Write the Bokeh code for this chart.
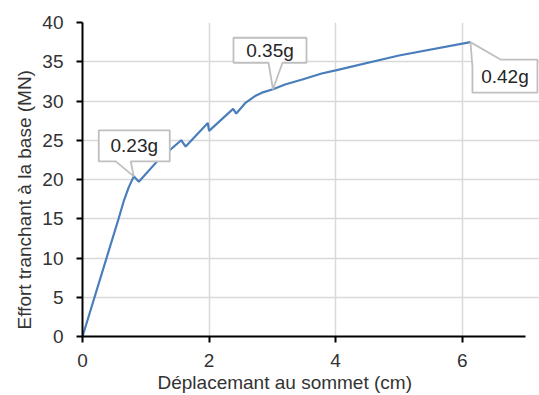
from bokeh.plotting import figure
from bokeh.models import Range1d, FixedTicker, PolyAnnotation, Label, Title
from bokeh.embed import file_html
from bokeh.resources import INLINE

# ---- data ----
disp = [0, 0.57, 0.65, 0.73, 0.81, 0.89, 1.2, 1.56, 1.63, 1.98, 2.0, 2.38, 2.43,
        2.58, 2.72, 2.85, 3.01, 3.2, 3.46, 3.78, 4.0, 5.0, 6.13]
shear = [0, 15.0, 17.2, 19.0, 20.4, 19.7, 22.5, 25.0, 24.2, 27.2, 26.2, 29.0, 28.4,
         29.8, 30.6, 31.1, 31.5, 32.1, 32.7, 33.5, 33.9, 35.8, 37.5]

x_ticks = [0, 2, 4, 6]
y_ticks = [0, 5, 10, 15, 20, 25, 30, 35, 40]
x_min, x_max = 0, 7
y_min, y_max = 0, 40

x_title = "Déplacemant au sommet (cm)"
y_title = "Effort tranchant à la base (MN)"

callout_texts = ["0.23g", "0.35g", "0.42g"]
callout_x = [0.81, 3.01, 6.13]
callout_y = [20.4, 31.5, 37.5]

FONT = "Liberation Sans"
TXT = "#333333"

# plot area: 443 px for x 0..7, 314 px for y 0..40; keep 14 px extra on the
# right inside the frame so the last callout is not clipped
px_x = (x_max - x_min) / 443.0
px_y = (y_max - y_min) / 314.0

p = figure(width=539, height=395, output_backend="svg", toolbar_location=None,
           x_range=Range1d(x_min, x_max + 14 * px_x), y_range=Range1d(y_min, y_max),
           min_border_left=82, min_border_top=22, min_border_right=0,
           min_border_bottom=59)
p.outline_line_color = None
p.background_fill_color = "white"

for ax in (p.xaxis[0], p.yaxis[0]):
    ax.axis_line_color = "black"
    ax.axis_line_width = 2
    ax.major_tick_line_color = "black"
    ax.major_tick_line_width = 2
    ax.major_tick_out = 6
    ax.major_tick_in = 0
    ax.minor_tick_line_color = None
    ax.major_label_text_font = FONT
    ax.major_label_text_font_size = "19px"
    ax.major_label_text_color = TXT

p.xaxis[0].bounds = (x_min, x_max)
p.xaxis[0].ticker = FixedTicker(ticks=x_ticks)
p.yaxis[0].ticker = FixedTicker(ticks=y_ticks)
p.xaxis[0].major_label_standoff = 11
p.yaxis[0].major_label_standoff = 13

p.add_layout(Title(text=x_title, align="left", offset=75, standoff=0,
                   text_font=FONT, text_font_size="19px", text_font_style="normal",
                   text_color=TXT), "below")
p.add_layout(Title(text=y_title, align="left", offset=7, standoff=10,
                   text_font=FONT, text_font_size="19px", text_font_style="normal",
                   text_color=TXT), "left")

p.xgrid.grid_line_color = "#d9d9d9"
p.ygrid.grid_line_color = "#d9d9d9"
p.xgrid.grid_line_width = 1.5
p.ygrid.grid_line_width = 1.5
p.xgrid.ticker = FixedTicker(ticks=x_ticks)
p.ygrid.ticker = FixedTicker(ticks=y_ticks)
p.ygrid.bounds = (x_min, x_max)

p.line(disp, shear, line_color="#4a7ebb", line_width=2.2)

# ---- callouts: shapes given as pixel offsets from each anchor point ----
shapes = [
    [(0, 0), (-3, -15), (36, -15), (36, -46), (-35, -46), (-35, -15), (-18, -15)],
    [(0, 0), (9.5, -26.5), (33.5, -26.5), (33.5, -51.5), (-39.5, -51.5), (-39.5, -26.5), (-4.5, -26.5)],
    [(0, 0), (30, 17.4), (67, 17.4), (67, 50.4), (2, 50.4), (2, 24.4)],
]
text_off = [(0.5, -30.5), (-3, -39), (34.5, 34)]

for txt, ax_, ay_, shp, (tx, ty) in zip(callout_texts, callout_x, callout_y, shapes, text_off):
    xs = [ax_ + dx * px_x for dx, dy in shp]
    ys = [ay_ - dy * px_y for dx, dy in shp]
    p.add_layout(PolyAnnotation(xs=xs, ys=ys, fill_color="white", fill_alpha=1.0,
                                line_color="#bfbfbf", line_alpha=1.0, line_width=1.8))
    p.add_layout(Label(x=ax_ + tx * px_x, y=ay_ - ty * px_y, text=txt,
                       text_align="center", text_baseline="middle",
                       text_font=FONT, text_font_size="19px", text_color="#262626"))

open("out.html", "w").write(file_html(p, INLINE))
